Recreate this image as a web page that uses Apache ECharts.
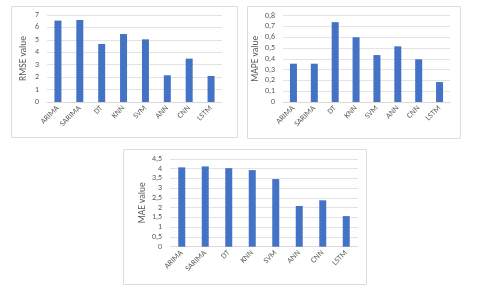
<!DOCTYPE html>
<html><head><meta charset="utf-8">
<script src="https://cdn.jsdelivr.net/npm/echarts@6/dist/echarts.min.js"></script>
<style>html,body{margin:0;padding:0;background:#fff}#c{width:480px;height:289px}</style>
</head><body><div id="c"></div>
<script>
const categories = ['ARIMA','SARIMA','DT','KNN','SVM','ANN','CNN','LSTM'];
const rmseValues = [6.55, 6.6, 4.67, 5.47, 5.04, 2.15, 3.49, 2.09];
const mapeValues = [0.355, 0.355, 0.74, 0.60, 0.435, 0.516, 0.396, 0.185];
const maeValues  = [4.07, 4.12, 4.03, 3.93, 3.47, 2.09, 2.38, 1.57];
const yNames = ['RMSE value','MAPE value','MAE value'];
const yMax = [7, 0.8, 4.5];
const yStep = [1, 0.1, 0.5];

const chart = echarts.init(document.getElementById('c'), null, {renderer:'canvas'});
const grids = [
  {left:47, top:15, width:175, height:87},
  {left:283, top:15.7, width:167, height:86.3},
  {left:170, top:159, width:188, height:87.7}
];
const boxes = [[11,6,226,131],[247,6,213,132],[123,149,243,135]];
const txt = '#595959';
const fam = 'Carlito, Calibri, "Liberation Sans", Arial, sans-serif';
const fmt = v => String(Math.round(v*100)/100).replace('.', ',');
const xAxis = [], yAxis = [], series = [];
const data = [rmseValues, mapeValues, maeValues];
for (let i=0;i<3;i++){
  xAxis.push({type:'category', gridIndex:i, data:categories,
    axisLine:{lineStyle:{color:'#d9d9d9'}}, axisTick:{show:false},
    axisLabel:{rotate:45, fontSize:8, color:txt, fontFamily:fam, interval:0, margin:5}});
  yAxis.push({type:'value', gridIndex:i, min:0, max:yMax[i], interval:yStep[i],
    name:yNames[i], nameLocation:'middle', nameGap:18, nameRotate:90,
    nameTextStyle:{fontSize:9.5, color:txt, fontFamily:fam},
    axisLine:{show:false}, axisTick:{show:false},
    splitLine:{lineStyle:{color:'#e3e3e3', width:1}},
    axisLabel:{fontSize:8, color:txt, fontFamily:fam, margin:8, formatter:fmt}});
  series.push({type:'bar', xAxisIndex:i, yAxisIndex:i, data:data[i], barWidth:7,
    itemStyle:{color:'#4472C4'}, animation:false});
}
chart.setOption({
  animation:false,
  grid: grids,
  xAxis, yAxis, series,
  graphic: boxes.map(b=>({type:'rect', shape:{x:b[0]+0.5,y:b[1]+0.5,width:b[2],height:b[3]},
    style:{fill:'none', stroke:'#dcdcdc', lineWidth:1}, z:-1}))
});
</script></body></html>
